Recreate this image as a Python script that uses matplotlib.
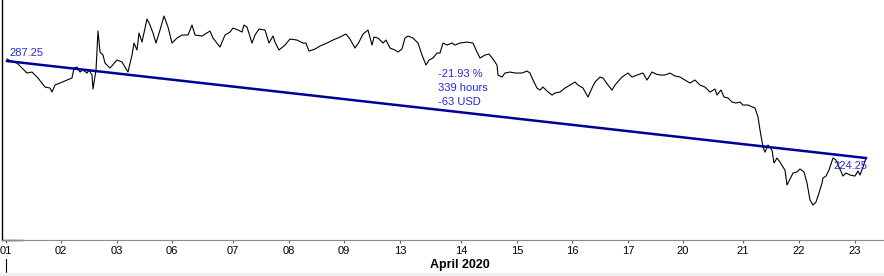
import numpy as np
import matplotlib
matplotlib.use("Agg")
import matplotlib.pyplot as plt

plt.rcParams['font.family'] = ['Liberation Sans', 'DejaVu Sans']

# bar index (session time) and close price
bars = [0.5, 2.5, 5.5, 8, 10.5, 13, 16, 19.5, 22, 23, 24.5, 27, 30.5, 33, 34, 35.5, 37, 38.5,
        40.5, 41.5, 43, 43.5, 45, 46, 47, 48.5, 49.5, 52, 55.5, 58, 61, 63, 64, 65.5, 66.5, 68,
        70.5, 72, 73.5, 75, 77, 79, 81, 83, 85.5, 88, 91, 93, 94.5, 98, 102, 103.5, 107,
        109.5, 112, 113.5, 116, 118, 119, 120.5, 123, 124.5, 126.5, 129.5, 131.5, 133.5, 134.5,
        136.5, 139.5, 142, 145.5, 148.5, 150, 151.5, 154.5, 157, 160.5, 163.5, 167, 170, 172,
        174.5, 176.5, 178.5, 181, 183, 184, 186, 188.5, 190, 192, 194.5, 196, 198, 199.5, 201,
        203.5, 206, 208, 210, 211.5, 213.5, 215.5, 217,
        218.5, 220.5, 223, 224.5, 227, 230.5, 233.5, 235.5, 237, 239.5, 241.5, 243.5, 245.5,
        246, 248, 249.5, 252, 254.5, 258, 260.5, 262, 263.5, 265.5, 267, 268.5, 270.5, 273,
        274.5, 277, 279.5, 282, 284.5, 286, 288.5, 291, 293, 294.5, 297, 298.5, 301, 303,
        304.5, 308, 311, 313, 315.5, 318.5, 320.5, 323, 325, 327,
        329.5, 332, 334.5, 337, 339.5, 342, 344.5, 347, 349.5, 352, 354.5, 355.5, 357.5, 359,
        361, 363, 365, 367, 368.5, 371, 374.5, 376, 377, 378.5, 379.5, 381, 383, 384, 385.5,
        387, 388.5, 389.5, 390.5, 392.5, 393.5, 395.5, 397, 399, 400.5, 402, 403.5, 405,
        406.5, 408, 408.5, 410, 411.5, 413.5, 415, 416.5, 418.5, 420, 422, 424.5, 426, 427,
        428.5, 430]
prices = [288.55, 287.25, 285.95, 282.7, 279.46, 280.11, 276.21, 270.36, 269.71, 267.12, 271.66,
          272.96, 274.91, 276.21, 282.7, 283.35, 280.11, 281.41, 279.46, 281.41, 278.16, 269.06,
          281.41, 306.74, 293.1, 291.15, 285.95, 282.7, 287.9, 286.6, 280.11, 291.15, 298.94,
          294.4, 305.44, 299.59, 314.53, 310.63, 305.44, 298.94, 307.39, 316.48, 309.33, 298.94,
          302.19, 304.14, 304.14, 310.63, 304.14, 303.49, 306.74, 302.19, 296.34,
          304.14, 306.09, 308.68, 307.39, 306.09, 310.63, 309.33, 298.94, 304.14, 308.03,
          307.39, 298.94, 303.49, 299.59, 294.4, 297.64, 301.54, 300.89, 298.94, 298.94,
          293.75, 295.04, 297.0, 298.94, 300.89, 302.84, 304.79, 301.54, 295.69, 299.59,
          304.79, 307.39, 297.64, 302.84, 302.19, 298.94, 300.89, 295.69, 294.4, 293.1, 295.04,
          302.19, 303.49, 302.19, 298.94, 291.15, 284.65, 287.9, 289.2, 292.45, 292.45,
          298.94, 297.64, 298.94, 297.64, 298.94, 299.59, 298.94, 293.1, 289.2, 291.15, 291.8,
          288.55, 284.65, 278.16, 276.86, 279.46, 280.11, 279.46, 279.46, 280.76, 279.46,
          274.91, 269.71, 268.41, 270.36, 267.77, 265.17, 266.47, 267.12, 269.71, 271.66,
          273.61, 271.66, 269.71, 263.87, 269.71, 273.61, 276.86, 276.21, 271.66, 268.41,
          271.66, 276.86, 279.46, 276.86, 278.16, 279.46, 274.91, 280.11, 278.81, 278.16,
          278.16, 279.46, 277.51, 276.86, 274.91, 272.96, 274.91, 271.66, 270.36, 267.12,
          269.06, 265.17, 268.41, 263.87, 263.22, 260.62, 259.97, 260.62, 258.67, 258.67,
          256.72, 250.88, 242.43, 231.39, 228.04, 232.69, 229.34, 221.0, 224.25, 221.65, 218.4,
          216.46, 206.72, 211.9, 214.51, 215.16, 217.11, 215.16, 208.0, 196.97, 193.72, 195.67,
          201.52, 208.0, 211.26, 212.55, 216.46, 224.25, 222.95, 218.4, 212.55, 214.51, 213.2,
          212.55, 215.81, 213.2, 218.4, 224.25]

tick_bars = [0, 27.5, 55.5, 83, 113.5, 141.5, 169, 197, 227.5, 255.5, 283, 311, 338.5,
             368.5, 396.5, 424.5]
tick_labels = ['01', '02', '03', '06', '07', '08', '09', '13', '14', '15', '16', '17',
               '20', '21', '22', '23']

trend_start = 287.25
trend_end = 224.25
trend_pct = -21.93
trend_hours = 339

fig = plt.figure(figsize=(8.84, 2.76), dpi=100)
# light strip at the very bottom
fig.patches.append(plt.Rectangle((0, 0), 1, 3 / 276, transform=fig.transFigure,
                                 color='#f0f0f0', zorder=0))
ax = fig.add_axes([2 / 884, 36 / 276, 882 / 884, 240 / 276])

ax.plot(bars, prices, color='black', lw=0.8)
ax.plot([bars[0], bars[-1]], [trend_start, trend_end], color='#000099', lw=1.8)

txt_col = '#2828d8'
ax.annotate(f'{trend_start:.2f}', (bars[0], trend_start), xytext=(2, 3),
            textcoords='offset pixels', ha='left', va='bottom', color=txt_col, fontsize=8)
ax.annotate(f'{trend_end:.2f}', (bars[-1], trend_end), xytext=(1, -3),
            textcoords='offset pixels', ha='right', va='top', color=txt_col, fontsize=8)
mid_x = (bars[0] + bars[-1]) / 2
mid_y = (trend_start + trend_end) / 2
ax.annotate(f'{trend_pct:.2f} %\n{trend_hours} hours\n{trend_end - trend_start:.0f} USD',
            (mid_x, mid_y), xytext=(2, 3), textcoords='offset pixels', ha='left',
            va='bottom', color=txt_col, fontsize=8, linespacing=1.45)

ax.set_xlim(-2, 439)
ax.set_ylim(171, 326.9)
ax.set_yticks([])
ax.set_xticks(tick_bars)
ax.set_xticklabels(tick_labels)
ax.tick_params(axis='x', length=2.5, width=0.8, color='#606070', pad=2, labelsize=8)
for s in ['top', 'right']:
    ax.spines[s].set_visible(False)
ax.spines['bottom'].set_color('#8a8a98')
ax.spines['left'].set_color('black')
ax.spines['left'].set_linewidth(1)
ax.plot([0, 20 / 882], [0, 0], transform=ax.transAxes, color='black', lw=1, clip_on=False)
# month separator below the first day
ax.plot([(6 - 2) / 882] * 2, [-19 / 240, -36 / 240], transform=ax.transAxes,
        color='black', lw=0.8, clip_on=False)

ax.set_xlabel('April 2020', fontweight='bold', fontsize=9)
ax.xaxis.set_label_coords((460 - 2) / 882, -19 / 240)

fig.savefig('out.png', dpi=100)
